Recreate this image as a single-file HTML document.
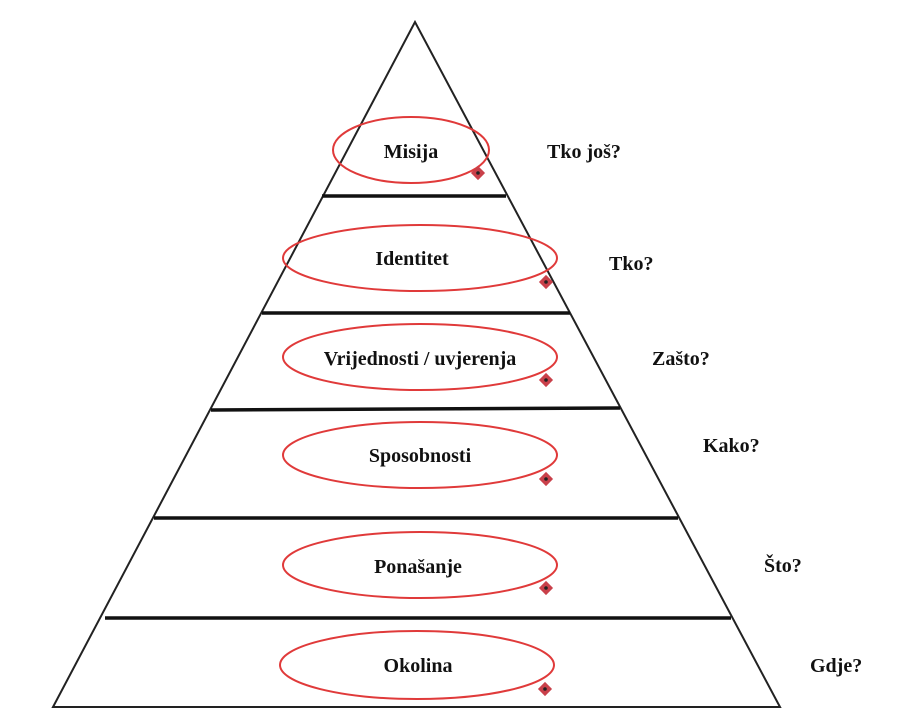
<!DOCTYPE html>
<html><head><meta charset="utf-8"><style>
html,body{margin:0;padding:0;background:#fff;}
svg{display:block;}
text{font-family:"Liberation Serif",serif;font-weight:bold;font-size:20px;fill:#111;}
</style></head><body>
<svg width="900" height="720" viewBox="0 0 900 720" xmlns="http://www.w3.org/2000/svg">
<polygon points="415,22 53,707 780,707" fill="none" stroke="#222" stroke-width="2"/>
<g stroke="#111" stroke-width="3.5">
<line x1="322" y1="196" x2="506" y2="196"/>
<line x1="262" y1="313" x2="570" y2="313"/>
<line x1="211" y1="410" x2="620" y2="408"/>
<line x1="154" y1="518" x2="678" y2="518"/>
<line x1="105" y1="618" x2="731" y2="618"/>
</g>
<g fill="none" stroke="#e03a3a" stroke-width="2">
<ellipse cx="411" cy="150" rx="78" ry="33"/>
<ellipse cx="420" cy="258" rx="137" ry="33"/>
<ellipse cx="420" cy="357" rx="137" ry="33"/>
<ellipse cx="420" cy="455" rx="137" ry="33"/>
<ellipse cx="420" cy="565" rx="137" ry="33"/>
<ellipse cx="417" cy="665" rx="137" ry="34"/>
</g>
<g>
<g transform="translate(478,173)"><rect x="-5" y="-5" width="10" height="10" transform="rotate(45)" fill="#c9404a"/><circle r="1.8" fill="#222"/></g>
<g transform="translate(546,282)"><rect x="-5" y="-5" width="10" height="10" transform="rotate(45)" fill="#c9404a"/><circle r="1.8" fill="#222"/></g>
<g transform="translate(546,380)"><rect x="-5" y="-5" width="10" height="10" transform="rotate(45)" fill="#c9404a"/><circle r="1.8" fill="#222"/></g>
<g transform="translate(546,479)"><rect x="-5" y="-5" width="10" height="10" transform="rotate(45)" fill="#c9404a"/><circle r="1.8" fill="#222"/></g>
<g transform="translate(546,588)"><rect x="-5" y="-5" width="10" height="10" transform="rotate(45)" fill="#c9404a"/><circle r="1.8" fill="#222"/></g>
<g transform="translate(545,689)"><rect x="-5" y="-5" width="10" height="10" transform="rotate(45)" fill="#c9404a"/><circle r="1.8" fill="#222"/></g>
</g>
<g text-anchor="middle">
<text x="411" y="158">Misija</text>
<text x="412" y="265">Identitet</text>
<text x="420" y="365">Vrijednosti / uvjerenja</text>
<text x="420" y="462">Sposobnosti</text>
<text x="418" y="573">Ponašanje</text>
<text x="418" y="672">Okolina</text>
</g>
<text x="547" y="158">Tko još?</text>
<text x="609" y="270">Tko?</text>
<text x="652" y="365">Zašto?</text>
<text x="703" y="452">Kako?</text>
<text x="764" y="572">Što?</text>
<text x="810" y="672">Gdje?</text>
</svg>
</body></html>
